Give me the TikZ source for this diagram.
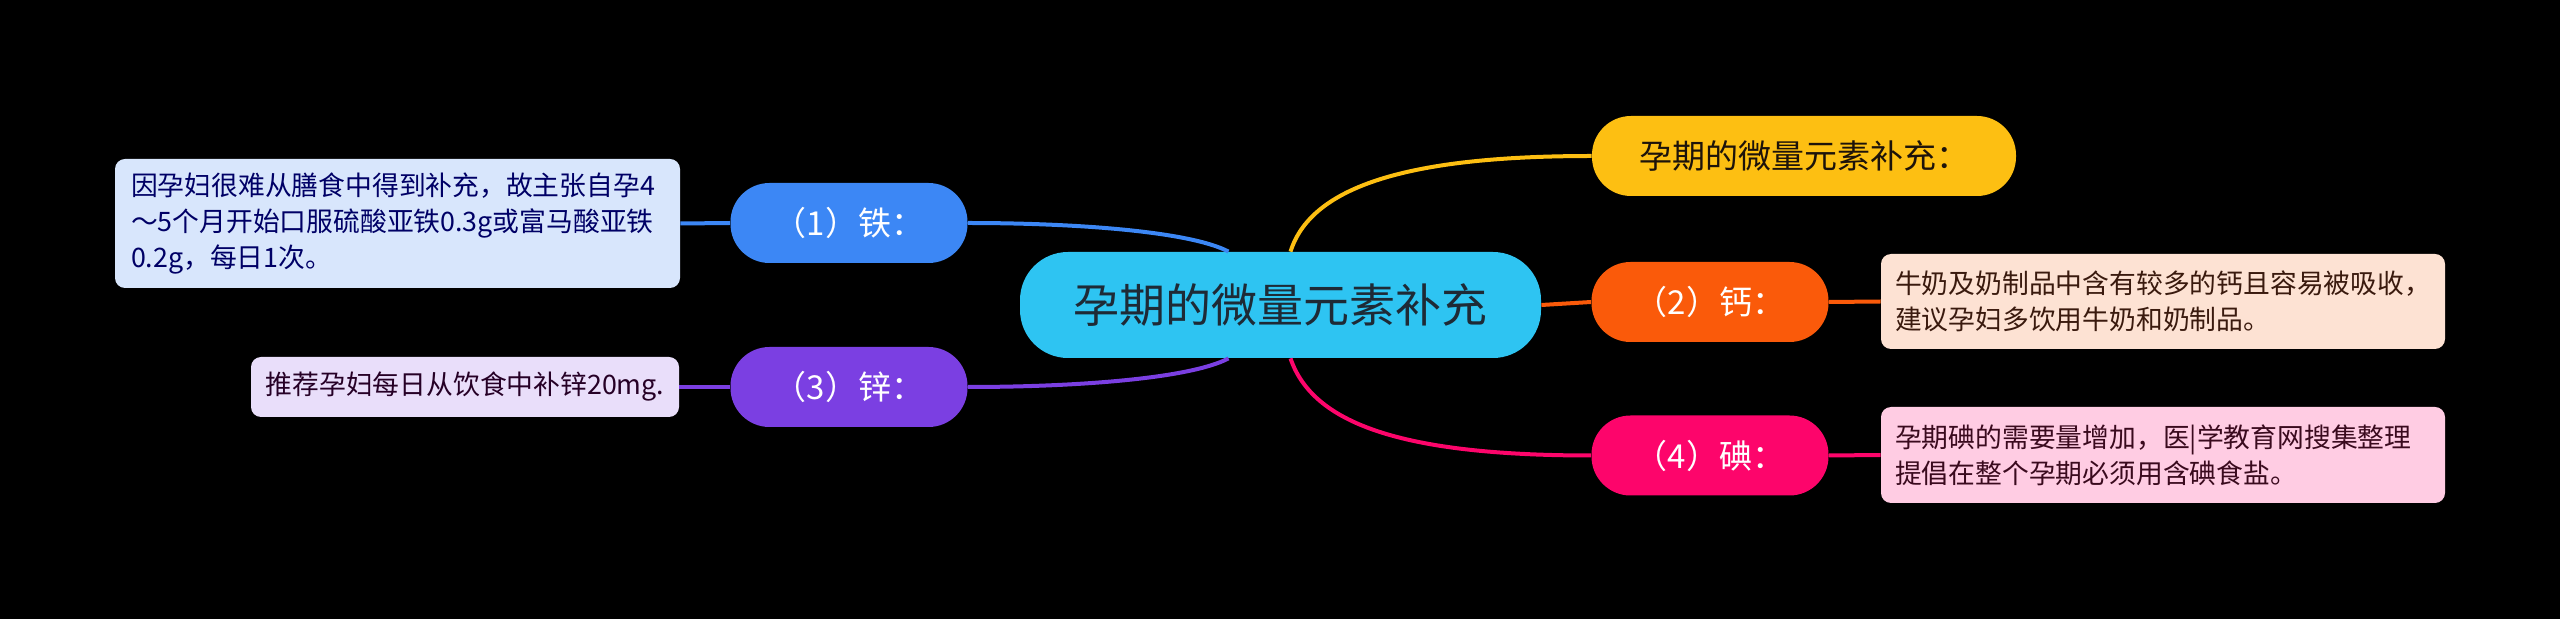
\documentclass[tikz,border=0pt]{standalone}
\usepackage{fontspec}
\setmainfont{Noto Sans CJK SC}
\definecolor{rootfill}{HTML}{2EC4F2}
\definecolor{roottext}{HTML}{1E2A36}
\definecolor{yellowfill}{HTML}{FDBF12}
\definecolor{orangefill}{HTML}{FA5A0A}
\definecolor{magentafill}{HTML}{FD056B}
\definecolor{bluefill}{HTML}{3C87F5}
\definecolor{purplefill}{HTML}{7B3FE2}
\definecolor{bluenote}{HTML}{D8E6FC}
\definecolor{peachnote}{HTML}{FDE2D3}
\definecolor{pinknote}{HTML}{FFCCE3}
\definecolor{lavendernote}{HTML}{E9DEFA}
\definecolor{peachtext}{HTML}{3A1A0E}
\definecolor{pinktext}{HTML}{3A0A1E}
\tikzset{
  topic/.style={rounded corners=19.5pt, minimum height=40pt, minimum width=118.5pt,
    inner sep=0pt, font=\fontsize{16.5pt}{20pt}\selectfont},
  note/.style={rounded corners=5pt, align=left, inner xsep=7pt, inner ysep=0pt,
    font=\fontsize{13.4pt}{18pt}\selectfont},
  link/.style={line width=2pt},
}
\begin{document}
\begin{tikzpicture}[x=0.5pt,y=-0.5pt]
\fill[black] (0,0) rectangle (2560,619);
\useasboundingbox (0,0) rectangle (2560,619);
% central topic
\node (root) at (1280.5,305) [fill=rootfill, text=roottext, rounded corners=24pt,
  minimum width=260.5pt, minimum height=53pt, inner sep=0pt,
  font=\fontsize{23pt}{28pt}\selectfont] {孕期的微量元素补充};
% right side
\node (sum) at (1804,156) [topic, fill=yellowfill, text=black!85!brown, minimum width=212pt] {孕期的微量元素补充：};
\node (ca) at (1710,302) [topic, fill=orangefill, text=white] {（2）钙：};
\node (iod) at (1710,455.5) [topic, fill=magentafill, text=white] {（4）碘：};
\node (canote) at (2163,301.5) [note, fill=peachnote, text=peachtext, text width=268pt, minimum height=47.5pt]
  {牛奶及奶制品中含有较多的钙且容易被吸收，\\建议孕妇多饮用牛奶和奶制品。};
\node (iodnote) at (2163,455) [note, fill=pinknote, text=pinktext, text width=268pt, minimum height=48pt]
  {孕期碘的需要量增加，医|学教育网搜集整理\\提倡在整个孕期必须用含碘食盐。};
% left side
\node (fe) at (849,223) [topic, fill=bluefill, text=white] {（1）铁：};
\node (zn) at (849,387) [topic, fill=purplefill, text=white] {（3）锌：};
\node (fenote) at (397.5,223.5) [note, fill=bluenote, text=blue!40!black, inner xsep=8pt, text width=266.5pt, minimum height=64.5pt]
  {因孕妇很难从膳食中得到补充，故主张自孕4\\～5个月开始口服硫酸亚铁0.3g或富马酸亚铁\\0.2g，每日1次。};
\node (znnote) at (465,387) [note, fill=lavendernote, text=violet!30!black, minimum width=214pt, minimum height=30pt]
  {推荐孕妇每日从饮食中补锌20mg.};
% connectors
\draw[link, yellowfill] ([xshift=5pt]root.north) .. controls +(22,-70) and +(-170,0) .. (sum.west);
\draw[link, magentafill] ([xshift=5pt]root.south) .. controls +(22,65) and +(-190,0) .. (iod.west);
\draw[link, orangefill] (root.east) -- (ca.west);
\draw[link, orangefill] (ca.east) -- (canote.west);
\draw[link, magentafill] (iod.east) -- (iodnote.west);
\draw[link, bluefill] ([xshift=-26pt]root.north) .. controls +(-38,-20) and +(110,0) .. (fe.east);
\draw[link, purplefill] ([xshift=-26pt]root.south) .. controls +(-38,20) and +(110,0) .. (zn.east);
\draw[link, bluefill] (fe.west) -- (fenote.east);
\draw[link, purplefill] (zn.west) -- (znnote.east);
\end{tikzpicture}
\end{document}
